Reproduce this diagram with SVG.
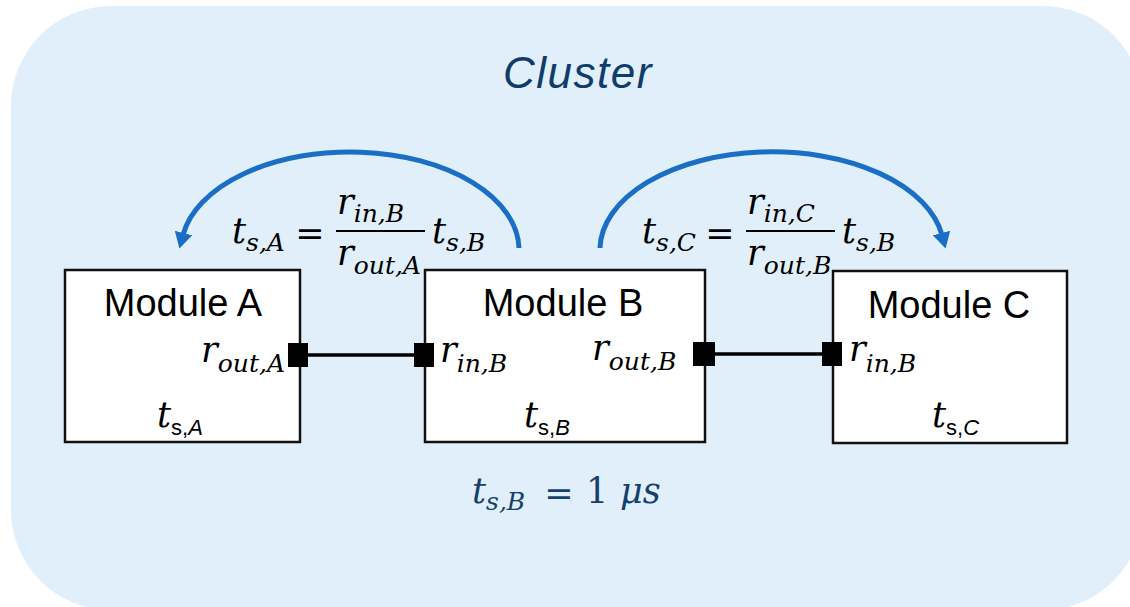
<svg xmlns="http://www.w3.org/2000/svg" width="1130" height="607" viewBox="0 0 1130 607">
  <style>
    .box { fill: #ffffff; stroke: #111111; stroke-width: 2.5; }
    .title { font-family: "Liberation Sans", Arial, sans-serif; font-size: 38px; fill: #000000; text-anchor: middle; }
    .math { font-family: "DejaVu Serif", "Liberation Serif", serif; font-style: italic; font-size: 35px; fill: #000000; }
    .blue { fill: #173F6E; }
    .sub { font-size: 25px; }
    .tsub { font-family: "Liberation Sans", Arial, sans-serif; font-style: normal; font-size: 22px; }
    .op { font-style: normal; }
    .port { fill: #000000; }
    .wire { stroke: #000000; stroke-width: 3.5; fill: none; }
    .arc { stroke: #1B6EC6; stroke-width: 5; fill: none; marker-end: url(#head); }
    .bar { stroke: #000000; stroke-width: 2; }
  </style>
  <defs>
    <marker id="head" viewBox="0 0 16 18" refX="2" refY="9" markerWidth="16" markerHeight="18" markerUnits="userSpaceOnUse" orient="auto">
      <path d="M0,0 L16,9 L0,18 z" fill="#1B6EC6"/>
    </marker>
  </defs>

  <g id="cluster">
    <rect x="11" y="6" width="1132" height="604" rx="100" ry="100" fill="#E1EFFB"/>
    <text x="578" y="88" font-family="Liberation Sans, Arial, sans-serif" font-style="italic" font-size="44" letter-spacing="1.5" fill="#0F3C6C" text-anchor="middle">Cluster</text>
  </g>

  <g id="module-a">
    <rect class="box" x="65" y="270" width="235" height="172"/>
    <text class="title" x="183" y="316">Module A</text>
    <text class="math" x="285" y="362" text-anchor="end">r<tspan class="sub" dy="10">out,A</tspan></text>
    <text class="math" x="157" y="427">t<tspan class="tsub" dy="8">s,<tspan font-style="italic">A</tspan></tspan></text>
  </g>

  <g id="module-b">
    <rect class="box" x="425" y="270" width="280" height="172"/>
    <text class="title" x="563" y="316">Module B</text>
    <text class="math" x="440" y="362">r<tspan class="sub" dy="10">in,B</tspan></text>
    <text class="math" x="592" y="360">r<tspan class="sub" dy="10">out,B</tspan></text>
    <text class="math" x="524" y="427">t<tspan class="tsub" dy="8">s,<tspan font-style="italic">B</tspan></tspan></text>
  </g>

  <g id="module-c">
    <rect class="box" x="833" y="271" width="234" height="172"/>
    <text class="title" x="949" y="318">Module C</text>
    <text class="math" x="849" y="361">r<tspan class="sub" dy="11">in,B</tspan></text>
    <text class="math" x="932" y="427">t<tspan class="tsub" dy="8">s,<tspan font-style="italic">C</tspan></tspan></text>
  </g>

  <g id="connectors">
    <line class="wire" x1="306" y1="355" x2="416" y2="355"/>
    <line class="wire" x1="713" y1="354" x2="824" y2="354"/>
    <rect class="port" x="288" y="343" width="20" height="24"/>
    <rect class="port" x="414" y="343" width="20" height="24"/>
    <rect class="port" x="693" y="342" width="22" height="24"/>
    <rect class="port" x="822" y="342" width="20" height="24"/>
    <path class="arc" d="M519,248 A169,98 0 0 0 183,235"/>
    <path class="arc" d="M600,248 A172,98 0 0 1 942,235"/>
  </g>

  <g id="eq-a">
    <text class="math" x="232" y="243">t<tspan class="sub" dy="8">s,A</tspan></text>
    <text class="math op" x="310" y="245" text-anchor="middle">=</text>
    <line class="bar" x1="336" y1="231" x2="425" y2="231"/>
    <text class="math" x="337" y="214">r<tspan class="sub" dy="8">in,B</tspan></text>
    <text class="math" x="337" y="265">r<tspan class="sub" dy="9">out,A</tspan></text>
    <text class="math" x="432" y="243">t<tspan class="sub" dy="8">s,B</tspan></text>
  </g>

  <g id="eq-c">
    <text class="math" x="642" y="243">t<tspan class="sub" dy="8">s,C</tspan></text>
    <text class="math op" x="720" y="245" text-anchor="middle">=</text>
    <line class="bar" x1="746" y1="231" x2="835" y2="231"/>
    <text class="math" x="747" y="214">r<tspan class="sub" dy="8">in,C</tspan></text>
    <text class="math" x="747" y="265">r<tspan class="sub" dy="9">out,B</tspan></text>
    <text class="math" x="842" y="243">t<tspan class="sub" dy="8">s,B</tspan></text>
  </g>

  <g id="eq-time">
    <text class="math blue" x="472" y="503">t<tspan class="sub" dy="7">s,B</tspan></text>
    <text class="math op blue" x="559" y="505" text-anchor="middle">=</text>
    <text class="math op blue" x="586" y="503">1</text>
    <text class="math blue" x="620" y="503">μs</text>
  </g>
</svg>
